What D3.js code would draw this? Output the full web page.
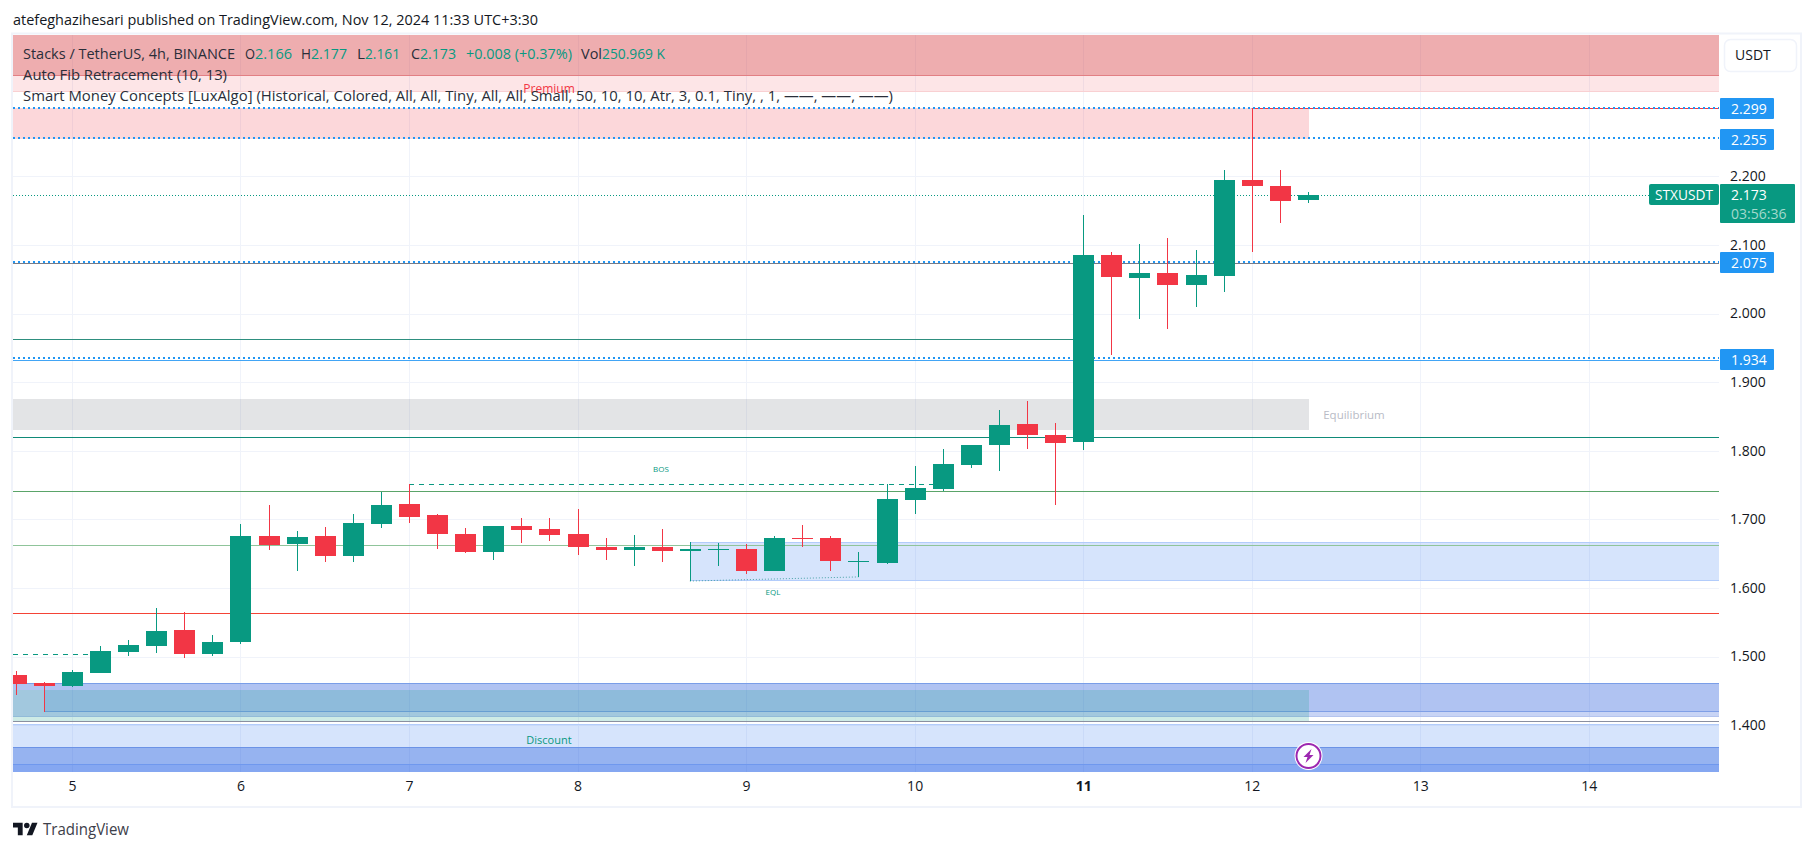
<!DOCTYPE html>
<html>
<head>
<meta charset="utf-8">
<script src="https://cdn.jsdelivr.net/npm/d3@7"></script>
<style>
    html, body { margin: 0; padding: 0; background: #fff; }
    svg { display: block; }
    text { font-family: "Open Sans", "Noto Sans", sans-serif; fill: #131722; }
    .axis text { font-size: 14px; fill: #131722; }
    .axis path, .axis line { display: none; }
    .legend { font-size: 14px; fill: #2a2e39; }
    .val { font-size: 14px; fill: #089981; }
    .badge { font-size: 14px; fill: #fff; }
    .tiny { font-size: 8px; fill: #089981; }
</style>
</head>
<body>
<div id="chart"></div>
<script>
// candles, one per 4h, bar 0 is the start of Nov 5
const firstBar = -2;
const opens = [1.473, 1.461, 1.457, 1.476, 1.506, 1.515, 1.539, 1.504, 1.521, 1.676, 1.664, 1.676, 1.646, 1.693, 1.722,
    1.706, 1.678, 1.652, 1.690, 1.686, 1.678, 1.660, 1.655, 1.660, 1.654, 1.655, 1.657, 1.625, 1.673, 1.673,
    1.638, 1.636, 1.728, 1.744, 1.779, 1.808, 1.839, 1.823, 1.813, 2.085, 2.052, 2.059, 2.042, 2.055, 2.195, 2.186, 2.166];
const highs = [1.479, 1.463, 1.480, 1.515, 1.524, 1.571, 1.565, 1.531, 1.693, 1.721, 1.683, 1.689, 1.708, 1.740, 1.751,
    1.708, 1.687, 1.690, 1.702, 1.702, 1.715, 1.673, 1.677, 1.686, 1.667, 1.665, 1.664, 1.676, 1.692, 1.676,
    1.652, 1.751, 1.778, 1.802, 1.808, 1.859, 1.872, 1.840, 2.144, 2.090, 2.101, 2.110, 2.093, 2.209, 2.299, 2.209, 2.177];
const lows = [1.444, 1.419, 1.455, 1.476, 1.501, 1.505, 1.498, 1.501, 1.518, 1.655, 1.625, 1.638, 1.638, 1.687, 1.695,
    1.657, 1.651, 1.641, 1.665, 1.668, 1.648, 1.641, 1.632, 1.638, 1.610, 1.632, 1.620, 1.625, 1.660, 1.625,
    1.616, 1.635, 1.708, 1.741, 1.775, 1.770, 1.802, 1.721, 1.801, 1.939, 1.992, 1.977, 2.009, 2.031, 2.090, 2.132, 2.161];
const closes = [1.460, 1.457, 1.477, 1.508, 1.517, 1.537, 1.504, 1.521, 1.676, 1.662, 1.674, 1.646, 1.695, 1.721, 1.703,
    1.678, 1.652, 1.690, 1.684, 1.677, 1.660, 1.655, 1.660, 1.654, 1.657, 1.657, 1.625, 1.673, 1.671, 1.639,
    1.639, 1.729, 1.746, 1.780, 1.808, 1.837, 1.823, 1.811, 2.085, 2.053, 2.059, 2.042, 2.056, 2.195, 2.186, 2.164, 2.173];

const dayLabels = ["5", "6", "7", "8", "9", "10", "11", "12", "13", "14"];
const dayBars = [0, 6, 12, 18, 24, 30, 36, 42, 48, 54];
const priceTicks = [1.4, 1.5, 1.6, 1.7, 1.8, 1.9, 2.0, 2.1, 2.2];

// auto fib levels and other levels
const fibLevels = [2.299, 2.255, 2.075, 1.934];
const lastPrice = 2.173;
const highLevel = 2.299;
const grayLevel = 2.0735;
const tealShortLevel = 1.963;
const fibBlueLevel = 1.932;
const tealLevel = 1.820;
const greenLevel = 1.741;
const paleGreenLevel = 1.662;
const redLevel = 1.564;
const lowGrayLevel = 1.406;

// zones as [low, high] prices
const premiumDark = [2.347, 2.41];
const premiumLight = [2.324, 2.347];
const pinkZone = [2.255, 2.299];
const equilibriumZone = [1.830, 1.875];
const blockZone = [1.612, 1.667];
const blueZoneWide = [1.413, 1.462];
const blueZoneInner = [1.420, 1.462];
const blueZoneCap = [1.451, 1.462];
const tealZone = [1.406, 1.451];
const discountLight = [1.368, 1.401];
const discountMid = [1.32, 1.368];
const discountDark = [1.32, 1.343];

const bosLine = { price: 1.751, fromBar: 12, toBar: 31 };
const leftDash = { price: 1.504, toBar: 1 };
const eqlLine = { fromBar: 22, fromPrice: 1.610, toBar: 28, toPrice: 1.616 };

const headerText = "atefeghazihesari published on TradingView.com, Nov 12, 2024 11:33 UTC+3:30";

const width = 1814, height = 851;
const paneLeft = 13, paneRight = 1719, paneTop = 35, paneBottom = 772;
const green = "#089981", red = "#f23645", gridColor = "#f0f3fa";

const x = d3.scaleLinear().domain([0, 54]).range([71.9, 1588.8]);
const y = d3.scaleLinear().domain([1.4, 2.2]).range([725.1, 176.3]);

const svg = d3.select("#chart").append("svg").attr("width", width).attr("height", height);

svg.append("defs").append("clipPath").attr("id", "pane")
    .append("rect")
    .attr("x", paneLeft).attr("y", paneTop)
    .attr("width", paneRight - paneLeft).attr("height", paneBottom - paneTop);

// outer frame
svg.append("rect")
    .attr("x", 12).attr("y", 33.5).attr("width", 1789).attr("height", 773.5)
    .attr("fill", "none").attr("stroke", gridColor).attr("stroke-width", 2);

const pane = svg.append("g").attr("clip-path", "url(#pane)");

// grid
pane.selectAll(".vgrid").data(dayBars).enter().append("line")
    .attr("x1", d => Math.round(x(d)) + 0.5).attr("x2", d => Math.round(x(d)) + 0.5)
    .attr("y1", paneTop).attr("y2", paneBottom)
    .attr("stroke", gridColor);
pane.selectAll(".hgrid").data(priceTicks).enter().append("line")
    .attr("x1", paneLeft).attr("x2", paneRight)
    .attr("y1", d => Math.round(y(d)) + 0.5).attr("y2", d => Math.round(y(d)) + 0.5)
    .attr("stroke", gridColor);

function zone(range, fill, x0, x1, topLine, bottomLine) {
    const left = Math.round(x0 === undefined ? paneLeft : x0);
    const right = Math.round(x1 === undefined ? paneRight : x1);
    const top = Math.round(y(range[1])), bottom = Math.round(y(range[0]));
    pane.append("rect")
        .attr("x", left).attr("width", right - left)
        .attr("y", top).attr("height", bottom - top)
        .attr("fill", fill);
    if (topLine) level(range[1], topLine, left, right);
    if (bottomLine) level(range[0], bottomLine, left, right);
}

function level(price, color, x0, x1, dash, w) {
    const yy = w === 2 ? Math.floor(y(price)) : Math.round(y(price)) + 0.5;
    pane.append("line")
        .attr("x1", x0 === undefined ? paneLeft : x0)
        .attr("x2", x1 === undefined ? paneRight : x1)
        .attr("y1", yy).attr("y2", yy)
        .attr("stroke", color)
        .attr("stroke-width", w || 1)
        .attr("stroke-dasharray", dash || null);
}

const lastBarX = x(opens.length - 1 + firstBar) + 1;

zone(premiumDark, "rgba(210,45,50,0.39)", undefined, undefined, null, "#e08a8e");
zone(premiumLight, "rgba(242,54,69,0.13)", undefined, undefined, null, "#f9d0d2");
zone(pinkZone, "rgba(242,54,69,0.2)", paneLeft, lastBarX);
zone(equilibriumZone, "rgba(115,120,130,0.2)", paneLeft, lastBarX);
zone(blockZone, "rgba(50,120,240,0.2)", x(22), paneRight, "#b2ccfb", "#b2ccfb");
zone(blueZoneWide, "rgba(35,83,215,0.25)", undefined, undefined, null, "#b4c4ee");
zone(blueZoneInner, "rgba(40,99,225,0.15)", x(-1), paneRight, null, "#7f9fe6");
zone(blueZoneCap, "rgba(40,99,225,0.15)", paneLeft, x(-1));
level(blueZoneWide[1], "#7a9ee8");
zone(tealZone, "rgba(8,153,129,0.2)", paneLeft, lastBarX);
zone(discountLight, "rgba(50,120,240,0.2)", undefined, undefined, "#b2ccfb");
zone(discountMid, "rgba(22,86,222,0.45)", undefined, undefined, "#6c93e6");
zone(discountDark, "rgba(40,100,250,0.15)", undefined, undefined, "#6f98ee");

// structure levels
level(lowGrayLevel, "#8a8fa0");
level(redLevel, "#f44336");
level(paleGreenLevel, "#8fc49a");
level(greenLevel, "#5aa469");
level(tealLevel, "#0f8a78");
level(fibBlueLevel, "#42a5f5");
level(tealShortLevel, "#2e8f7f", paneLeft, x(36));
level(grayLevel, "#787b86");
level(highLevel, red, x(42), paneRight);

fibLevels.forEach(d => level(d, "#2196f3", paneLeft, paneRight, "2 3", 2));
level(lastPrice, green, paneLeft, 1649, "1 2");

level(bosLine.price, green, x(bosLine.fromBar), x(bosLine.toBar), "5 5");
level(leftDash.price, green, paneLeft, x(leftDash.toBar), "5 5");

pane.append("line")
    .attr("x1", x(eqlLine.fromBar)).attr("y1", y(eqlLine.fromPrice))
    .attr("x2", x(eqlLine.toBar)).attr("y2", y(eqlLine.toPrice))
    .attr("stroke", "#4aa3a8").attr("stroke-dasharray", "1 2");

// candles
const bars = opens.map((o, i) => ({ bar: i + firstBar, o: o, h: highs[i], l: lows[i], c: closes[i] }));
const candle = pane.selectAll(".candle").data(bars).enter().append("g").attr("class", "candle");
candle.append("line")
    .attr("x1", d => Math.round(x(d.bar)) + 0.5).attr("x2", d => Math.round(x(d.bar)) + 0.5)
    .attr("y1", d => Math.round(y(d.h))).attr("y2", d => Math.round(y(d.l)))
    .attr("stroke", d => d.c >= d.o ? green : red);
candle.append("rect")
    .attr("x", d => Math.round(x(d.bar)) - 10).attr("width", 21)
    .attr("y", d => Math.round(y(Math.max(d.o, d.c))))
    .attr("height", d => Math.max(1, Math.round(y(Math.min(d.o, d.c))) - Math.round(y(Math.max(d.o, d.c)))))
    .attr("fill", d => d.c >= d.o ? green : red);

// zone labels
svg.append("text").attr("x", 549).attr("y", 93).attr("text-anchor", "middle")
    .style("font-size", "12px").style("fill", red).text("Premium");
svg.append("text").attr("x", 1354).attr("y", 419).attr("text-anchor", "middle")
    .style("font-size", "11.5px").style("fill", "#b8bbc6").text("Equilibrium");
svg.append("text").attr("x", 549).attr("y", 744).attr("text-anchor", "middle")
    .style("font-size", "11px").style("fill", green).text("Discount");
svg.append("text").attr("class", "tiny").attr("x", 661).attr("y", 472).attr("text-anchor", "middle").text("BOS");
svg.append("text").attr("class", "tiny").attr("x", 773).attr("y", 595).attr("text-anchor", "middle").text("EQL");

// axes
const xAxis = d3.axisBottom(x).tickValues(dayBars).tickSize(0).tickPadding(9)
    .tickFormat((d, i) => dayLabels[i]);
const xg = svg.append("g").attr("class", "axis").attr("transform", `translate(0,${paneBottom})`).call(xAxis);
xg.selectAll("text").style("font-weight", (d, i) => dayLabels[i] === "11" ? 700 : 400);

const yAxis = d3.axisRight(y).tickValues(priceTicks).tickSize(0).tickPadding(11).tickFormat(d3.format(".3f"));
svg.append("g").attr("class", "axis").attr("transform", `translate(${paneRight},0)`).call(yAxis);

// price badges
fibLevels.forEach(d => {
    const yy = Math.round(y(d));
    svg.append("rect").attr("x", 1720).attr("y", yy - 10).attr("width", 54).attr("height", 21)
        .attr("rx", 1).attr("fill", "#2196f3");
    svg.append("text").attr("class", "badge").attr("x", 1731).attr("y", yy + 5.5).text(d3.format(".3f")(d));
});

const lastY = Math.round(y(lastPrice));
svg.append("rect").attr("x", 1649).attr("y", lastY - 11).attr("width", 70).attr("height", 21).attr("rx", 2).attr("fill", green);
svg.append("text").attr("class", "badge").attr("x", 1655).attr("y", lastY + 5)
    .attr("textLength", 58).attr("lengthAdjust", "spacingAndGlyphs").text("STXUSDT");
svg.append("rect").attr("x", 1720).attr("y", lastY - 11).attr("width", 75).attr("height", 39).attr("rx", 1).attr("fill", green);
svg.append("text").attr("class", "badge").attr("x", 1731).attr("y", lastY + 5).text(d3.format(".3f")(lastPrice));
svg.append("text").attr("class", "badge").attr("x", 1731).attr("y", lastY + 24).style("fill", "#a3d9cd").text("03:56:36");

// currency button
svg.append("rect").attr("x", 1724.5).attr("y", 39.5).attr("width", 72).attr("height", 32).attr("rx", 6)
    .attr("fill", "#fff").attr("stroke", gridColor).attr("stroke-width", 1.5);
svg.append("text").attr("x", 1735).attr("y", 60).style("font-size", "14px").text("USDT");

// header and legend
svg.append("text").attr("x", 13).attr("y", 25).style("font-size", "14px")
    .attr("textLength", 525).attr("lengthAdjust", "spacingAndGlyphs").text(headerText);

function legend(txt, px, py, cls, len) {
    svg.append("text").attr("class", cls).attr("x", px).attr("y", py)
        .attr("textLength", len).attr("lengthAdjust", "spacingAndGlyphs").text(txt);
}
legend("Stacks / TetherUS, 4h, BINANCE", 23, 59, "legend", 212);
legend("O", 245, 59, "legend", 10);
legend("2.166", 255, 59, "val", 37);
legend("H", 301, 59, "legend", 10);
legend("2.177", 311, 59, "val", 36);
legend("L", 357, 59, "legend", 8);
legend("2.161", 365, 59, "val", 35);
legend("C", 411, 59, "legend", 9);
legend("2.173", 420, 59, "val", 36);
legend("+0.008 (+0.37%)", 466, 59, "val", 106);
legend("Vol", 581, 59, "legend", 21);
legend("250.969 K", 602, 59, "val", 63);
legend("Auto Fib Retracement (10, 13)", 23, 80, "legend", 204);
legend("Smart Money Concepts [LuxAlgo] (Historical, Colored, All, All, Tiny, All, All, Small, 50, 10, 10, Atr, 3, 0.1, Tiny, , 1, ——, ——, ——)", 23, 101, "legend", 870);

// trade ideas lightning badge
const bolt = svg.append("g").attr("transform", "translate(1308.5,756)");
bolt.append("circle").attr("r", 14).attr("fill", "#fff");
bolt.append("circle").attr("r", 12).attr("fill", "#fff").attr("stroke", "#9c27b0").attr("stroke-width", 2);
bolt.append("path").attr("d", "M3,-7 L-5,1 L-1,1 L-3,7 L5,-1 L1,-1 Z").attr("fill", "#9c27b0");

// TradingView mark
const logo = svg.append("g").attr("transform", "translate(13,820) scale(0.69)");
logo.append("path").attr("d", "M14 22H7V11H0V4h14v18zM28 22h-8l7.5-18h8L28 22z").attr("fill", "#131722");
logo.append("circle").attr("cx", 20).attr("cy", 8).attr("r", 4).attr("fill", "#131722");
svg.append("text").attr("x", 43).attr("y", 835).style("font-size", "15.5px").style("fill", "#3d404a")
    .attr("textLength", 86).attr("lengthAdjust", "spacingAndGlyphs").text("TradingView");
</script>
</body>
</html>
